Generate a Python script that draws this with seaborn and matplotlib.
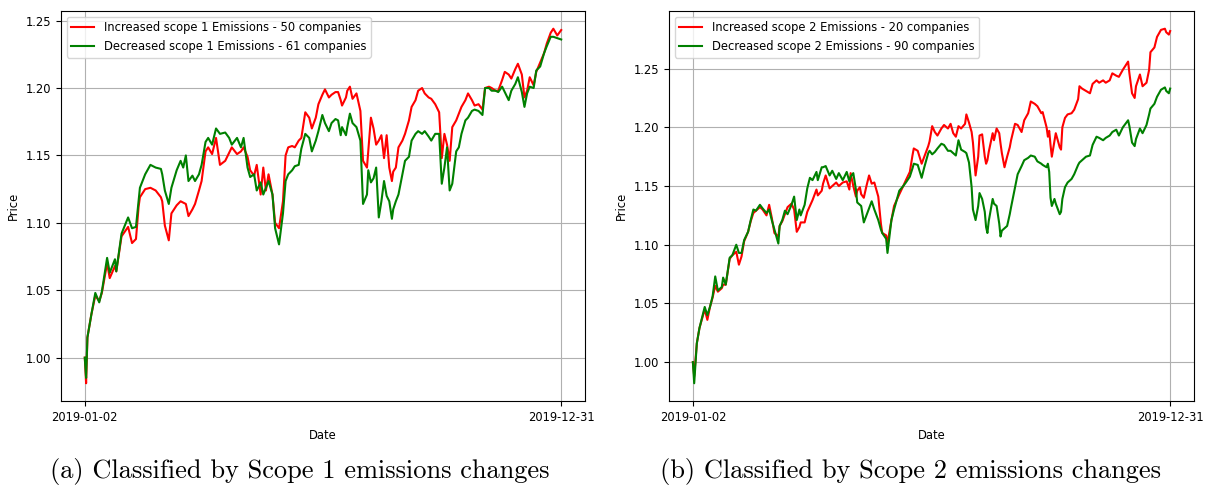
import numpy as np
import pandas as pd
import matplotlib
matplotlib.use("Agg")
import matplotlib.pyplot as plt
import matplotlib.dates as mdates
import seaborn as sns

START = pd.Timestamp("2019-01-02")

# ---- panel (a): scope 1 ----
days_a = [0, 1, 2, 5, 8, 11, 13, 17, 19, 23,
          24, 28, 33, 36, 39, 41, 42, 46, 50, 54,
          58, 59, 61, 64, 66, 70, 73, 75, 77, 79,
          82, 84, 87, 89, 92, 94, 97, 100, 103, 107,
          110, 112, 116, 119, 121, 124, 126, 129, 131, 134,
          136, 138, 140, 143, 145, 148, 151, 153, 155, 158,
          160, 163, 165, 168, 171, 173, 176, 178, 181, 183,
          186, 188, 191, 193, 195, 196, 199, 200, 202, 204,
          207, 210, 212, 215, 216, 218, 220, 222, 224, 226,
          228, 230, 232, 234, 235, 237, 239, 242, 244, 247,
          249, 252, 254, 257, 259, 262, 264, 267, 270, 272,
          274, 276, 278, 280, 283, 285, 287, 290, 292, 295,
          297, 300, 303, 305, 308, 310, 313, 315, 318, 320,
          323, 325, 328, 330, 333, 335, 337, 339, 342, 344,
          347, 350, 352, 355, 357, 360, 363]

inc_a = [1.000, 0.981, 1.015, 1.032, 1.046, 1.042, 1.048, 1.070, 1.059, 1.068,
         1.064, 1.090, 1.097, 1.085, 1.088, 1.112, 1.119, 1.125, 1.126, 1.124,
         1.119, 1.116, 1.098, 1.087, 1.107, 1.113, 1.116, 1.115, 1.114, 1.105,
         1.110, 1.114, 1.124, 1.131, 1.153, 1.156, 1.151, 1.163, 1.143, 1.146,
         1.152, 1.156, 1.151, 1.153, 1.156, 1.149, 1.139, 1.135, 1.143, 1.121,
         1.141, 1.124, 1.136, 1.121, 1.100, 1.096, 1.116, 1.150, 1.156, 1.157,
         1.156, 1.161, 1.163, 1.182, 1.178, 1.170, 1.178, 1.188, 1.195, 1.199,
         1.193, 1.195, 1.197, 1.197, 1.191, 1.187, 1.193, 1.198, 1.201, 1.192,
         1.196, 1.183, 1.146, 1.141, 1.153, 1.178, 1.170, 1.158, 1.161, 1.165,
         1.148, 1.165, 1.141, 1.131, 1.138, 1.141, 1.156, 1.161, 1.166, 1.176,
         1.186, 1.191, 1.198, 1.200, 1.196, 1.193, 1.192, 1.188, 1.182, 1.148,
         1.166, 1.158, 1.146, 1.171, 1.176, 1.181, 1.186, 1.191, 1.196, 1.191,
         1.187, 1.188, 1.184, 1.200, 1.201, 1.200, 1.198, 1.198, 1.206, 1.212,
         1.210, 1.207, 1.214, 1.218, 1.210, 1.193, 1.198, 1.208, 1.202, 1.212,
         1.219, 1.226, 1.233, 1.241, 1.244, 1.239, 1.243]

dec_a = [1.000, 0.985, 1.015, 1.032, 1.048, 1.041, 1.049, 1.074, 1.063, 1.073,
         1.064, 1.092, 1.104, 1.096, 1.097, 1.116, 1.126, 1.136, 1.143, 1.141,
         1.140, 1.136, 1.124, 1.114, 1.126, 1.139, 1.146, 1.141, 1.150, 1.131,
         1.135, 1.131, 1.136, 1.143, 1.160, 1.163, 1.158, 1.170, 1.166, 1.167,
         1.163, 1.158, 1.163, 1.156, 1.163, 1.141, 1.134, 1.136, 1.124, 1.130,
         1.121, 1.126, 1.131, 1.121, 1.096, 1.084, 1.107, 1.131, 1.136, 1.139,
         1.142, 1.143, 1.155, 1.166, 1.163, 1.153, 1.161, 1.168, 1.180, 1.174,
         1.168, 1.174, 1.177, 1.176, 1.165, 1.171, 1.165, 1.171, 1.181, 1.174,
         1.171, 1.161, 1.114, 1.121, 1.139, 1.130, 1.133, 1.141, 1.104, 1.116,
         1.131, 1.120, 1.116, 1.103, 1.110, 1.116, 1.121, 1.136, 1.146, 1.149,
         1.161, 1.166, 1.168, 1.166, 1.168, 1.164, 1.161, 1.166, 1.166, 1.129,
         1.141, 1.156, 1.124, 1.129, 1.153, 1.156, 1.166, 1.176, 1.178, 1.183,
         1.184, 1.183, 1.180, 1.200, 1.200, 1.198, 1.198, 1.197, 1.201, 1.197,
         1.191, 1.198, 1.203, 1.208, 1.197, 1.186, 1.196, 1.201, 1.200, 1.213,
         1.216, 1.226, 1.231, 1.238, 1.238, 1.237, 1.236]

# ---- panel (b): scope 2 ----
days_b = [0, 1, 3, 5, 9, 11, 13, 15, 17, 19,
          22, 23, 25, 28, 30, 33, 35, 37, 39, 42,
          44, 46, 48, 51, 53, 56, 58, 60, 62, 65,
          66, 68, 70, 72, 75, 77, 79, 81, 82, 85,
          87, 89, 91, 94, 95, 98, 99, 101, 104, 106,
          109, 111, 114, 117, 119, 120, 122, 124, 125, 127,
          128, 130, 132, 134, 136, 138, 141, 143, 144, 147,
          148, 151, 153, 157, 160, 162, 165, 167, 168, 171,
          174, 176, 179, 180, 182, 184, 186, 189, 191, 194,
          196, 198, 200, 202, 204, 207, 208, 210, 212, 213,
          215, 217, 218, 220, 222, 223, 224, 225, 228, 229,
          231, 233, 234, 235, 237, 239, 241, 242, 245, 247,
          250, 252, 255, 257, 260, 262, 265, 266, 269, 270,
          271, 272, 273, 275, 276, 279, 280, 281, 283, 285,
          288, 290, 293, 294, 296, 299, 302, 304, 307, 309,
          312, 314, 317, 319, 322, 324, 327, 331, 332, 334,
          336, 337, 340, 342, 345, 347, 348, 351, 353, 356,
          359, 360, 362, 363]

inc_b = [1.000, 0.988, 1.016, 1.029, 1.045, 1.036, 1.047, 1.055, 1.065, 1.060,
         1.063, 1.066, 1.066, 1.088, 1.091, 1.094, 1.083, 1.090, 1.103, 1.111,
         1.120, 1.127, 1.129, 1.132, 1.130, 1.125, 1.134, 1.123, 1.110, 1.107,
         1.116, 1.120, 1.126, 1.132, 1.135, 1.130, 1.111, 1.115, 1.119, 1.119,
         1.128, 1.133, 1.138, 1.147, 1.142, 1.146, 1.152, 1.159, 1.148, 1.150,
         1.153, 1.150, 1.153, 1.154, 1.147, 1.161, 1.150, 1.141, 1.146, 1.149,
         1.143, 1.140, 1.150, 1.159, 1.152, 1.153, 1.141, 1.118, 1.110, 1.108,
         1.101, 1.121, 1.133, 1.143, 1.150, 1.155, 1.162, 1.176, 1.182, 1.180,
         1.169, 1.175, 1.184, 1.188, 1.201, 1.196, 1.193, 1.199, 1.202, 1.199,
         1.203, 1.195, 1.192, 1.201, 1.199, 1.203, 1.211, 1.204, 1.196, 1.187,
         1.159, 1.175, 1.193, 1.194, 1.175, 1.169, 1.172, 1.179, 1.195, 1.189,
         1.199, 1.195, 1.186, 1.178, 1.166, 1.175, 1.183, 1.189, 1.203, 1.202,
         1.196, 1.206, 1.212, 1.222, 1.220, 1.218, 1.212, 1.213, 1.200, 1.192,
         1.197, 1.185, 1.175, 1.188, 1.195, 1.183, 1.181, 1.200, 1.208, 1.211,
         1.212, 1.215, 1.224, 1.235, 1.233, 1.231, 1.229, 1.237, 1.240, 1.238,
         1.240, 1.238, 1.240, 1.246, 1.244, 1.243, 1.249, 1.256, 1.246, 1.229,
         1.225, 1.235, 1.245, 1.235, 1.238, 1.249, 1.264, 1.268, 1.277, 1.283,
         1.284, 1.281, 1.279, 1.282]

dec_b = [1.000, 0.982, 1.016, 1.029, 1.047, 1.040, 1.047, 1.056, 1.073, 1.061,
         1.064, 1.072, 1.066, 1.089, 1.091, 1.100, 1.093, 1.093, 1.104, 1.111,
         1.121, 1.130, 1.129, 1.134, 1.131, 1.127, 1.130, 1.121, 1.113, 1.101,
         1.116, 1.121, 1.129, 1.126, 1.134, 1.141, 1.121, 1.130, 1.125, 1.134,
         1.148, 1.157, 1.155, 1.162, 1.155, 1.166, 1.166, 1.167, 1.159, 1.163,
         1.156, 1.161, 1.155, 1.162, 1.154, 1.158, 1.161, 1.147, 1.136, 1.134,
         1.133, 1.119, 1.125, 1.131, 1.137, 1.130, 1.121, 1.113, 1.110, 1.105,
         1.093, 1.121, 1.130, 1.146, 1.150, 1.153, 1.158, 1.165, 1.169, 1.168,
         1.157, 1.166, 1.178, 1.180, 1.177, 1.179, 1.182, 1.186, 1.185, 1.180,
         1.180, 1.178, 1.176, 1.189, 1.181, 1.179, 1.178, 1.170, 1.149, 1.130,
         1.121, 1.133, 1.144, 1.139, 1.128, 1.115, 1.110, 1.120, 1.139, 1.135,
         1.133, 1.118, 1.107, 1.112, 1.114, 1.116, 1.126, 1.132, 1.149, 1.160,
         1.167, 1.172, 1.174, 1.176, 1.175, 1.171, 1.169, 1.168, 1.166, 1.169,
         1.162, 1.140, 1.133, 1.139, 1.135, 1.126, 1.128, 1.139, 1.149, 1.153,
         1.156, 1.160, 1.168, 1.170, 1.172, 1.175, 1.176, 1.185, 1.192, 1.191,
         1.189, 1.191, 1.193, 1.196, 1.198, 1.193, 1.200, 1.206, 1.201, 1.187,
         1.184, 1.190, 1.199, 1.195, 1.202, 1.211, 1.216, 1.220, 1.226, 1.232,
         1.234, 1.231, 1.229, 1.233]

labels_a = ["Increased scope 1 Emissions - 50 companies",
            "Decreased scope 1 Emissions - 61 companies"]
labels_b = ["Increased scope 2 Emissions - 20 companies",
            "Decreased scope 2 Emissions - 90 companies"]
captions = ["(a) Classified by Scope 1 emissions changes",
            "(b) Classified by Scope 2 emissions changes"]

plt.rcParams["font.size"] = 8.3


def draw_panel(ax, days, inc, dec, labels):
    """Plot increased / decreased portfolios on one axis"""
    dates = START + pd.to_timedelta(days, unit="D")
    sns.lineplot(x=dates, y=inc, color="red", label=labels[0], ax=ax, errorbar=None)
    sns.lineplot(x=dates, y=dec, color="green", label=labels[1], ax=ax, errorbar=None)
    ax.set_xticks([dates[0], dates[-1]])
    ax.xaxis.set_major_formatter(mdates.DateFormatter("%Y-%m-%d"))
    ax.set_xlabel("Date")
    ax.set_ylabel("Price")
    ax.grid(True)
    ax.legend(loc="upper left")


fig = plt.figure(figsize=(12.05, 4.88), dpi=100)
ax1 = fig.add_axes([0.0506, 0.1783, 0.4349, 0.7992])
ax2 = fig.add_axes([0.5552, 0.1783, 0.4357, 0.7992])

draw_panel(ax1, days_a, inc_a, dec_a, labels_a)
draw_panel(ax2, days_b, inc_b, dec_b, labels_b)

fig.text(0.249, 0.034, captions[0], ha="center", va="center",
         fontsize=19, family="cmr10")
fig.text(0.756, 0.034, captions[1], ha="center", va="center",
         fontsize=19, family="cmr10")

fig.savefig("out.png", dpi=100)
plt.close(fig)
